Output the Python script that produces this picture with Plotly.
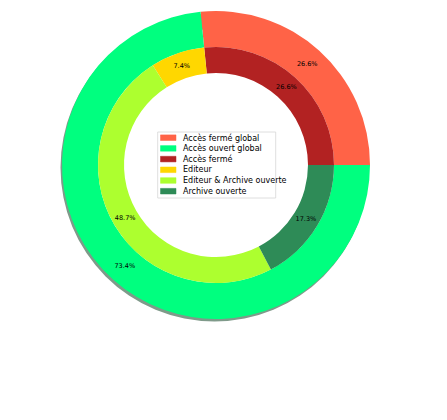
import plotly.graph_objects as go

# outer ring: global access split
outer_labels = ["Accès fermé global", "Accès ouvert global"]
outer_values = [26.6, 73.4]
outer_colors = ["#FF6347", "#00FF7F"]

# inner ring: detail
inner_labels = ["Accès fermé", "Editeur", "Editeur & Archive ouverte", "Archive ouverte"]
inner_values = [26.6, 7.4, 48.7, 17.3]
inner_colors = ["#B22222", "#FFD700", "#ADFF2F", "#2E8B57"]

W, H = 447, 420
OFF = 8                    # page body margin pushes the figure by this much
cx, cy = 216 - OFF, 165 - OFF
r_out, r_mid, r_in = 154, 118, 92


def dom(r, dx=0.0, dy=0.0):
    return dict(x=[(cx + dx - r) / W, (cx + dx + r) / W],
                y=[(H - cy - dy - r) / H, (H - cy - dy + r) / H])


def start_at_3(vals):
    # plotly's ccw pies put the first slice *before* the rotation angle,
    # so shift it so the first slice starts at 3 o'clock like matplotlib
    return 90 - 360 * vals[0] / sum(vals)


pie_font = dict(family="DejaVu Sans", size=6.5, color="black")

fig = go.Figure()

# shadow under the outer ring
fig.add_trace(go.Pie(
    values=[1], labels=["shadow"], marker=dict(colors=["#7f9a8a"], line=dict(width=0)),
    domain=dom(r_out, dx=-1.5, dy=2.5), hole=0.9, textinfo="none",
    showlegend=False, hoverinfo="skip", sort=False,
))

fig.add_trace(go.Pie(
    values=outer_values, labels=outer_labels,
    marker=dict(colors=outer_colors, line=dict(width=0)),
    domain=dom(r_out), hole=r_mid / r_out,
    sort=False, direction="counterclockwise", rotation=start_at_3(outer_values),
    textinfo="percent", texttemplate="%{percent:.1%}", textposition="inside",
    insidetextorientation="horizontal", textfont=pie_font, showlegend=False,
))

fig.add_trace(go.Pie(
    values=inner_values, labels=inner_labels,
    marker=dict(colors=inner_colors, line=dict(width=0)),
    domain=dom(r_mid), hole=r_in / r_mid,
    sort=False, direction="counterclockwise", rotation=start_at_3(inner_values),
    textinfo="percent", texttemplate="%{percent:.1%}", textposition="inside",
    insidetextorientation="horizontal", textfont=pie_font, showlegend=False,
))

# legend drawn by hand (plotly legend rows are too tall for this size)
leg_x0, leg_x1, leg_y0, leg_y1 = 157.7 - OFF, 275.7 - OFF, 132 - OFF, 198 - OFF
row0, row_step = 137.7 - OFF, 10.7
shapes = [dict(type="rect", xref="paper", yref="paper",
               x0=leg_x0 / W, x1=leg_x1 / W, y0=(H - leg_y1) / H, y1=(H - leg_y0) / H,
               line=dict(color="#d6d6d6", width=0.8), fillcolor="rgba(255,255,255,0.8)")]
annotations = []
for i, (lab, col) in enumerate(zip(outer_labels + inner_labels, outer_colors + inner_colors)):
    yc = row0 + i * row_step
    shapes.append(dict(type="rect", xref="paper", yref="paper",
                       x0=(160.5 - OFF) / W, x1=(176 - OFF) / W,
                       y0=(H - yc - 2.8) / H, y1=(H - yc + 2.8) / H,
                       line=dict(color=col, width=0.5), fillcolor=col))
    annotations.append(dict(text=lab, xref="paper", yref="paper",
                            x=(180.5 - OFF) / W, y=(H - yc) / H,
                            xanchor="left", yanchor="middle", showarrow=False,
                            font=dict(family="DejaVu Sans", size=8, color="black")))

fig.update_layout(
    width=W, height=H,
    margin=dict(l=0, r=0, t=0, b=0),
    paper_bgcolor="white", plot_bgcolor="white",
    shapes=shapes, annotations=annotations,
)

fig.write_html("out.html")
